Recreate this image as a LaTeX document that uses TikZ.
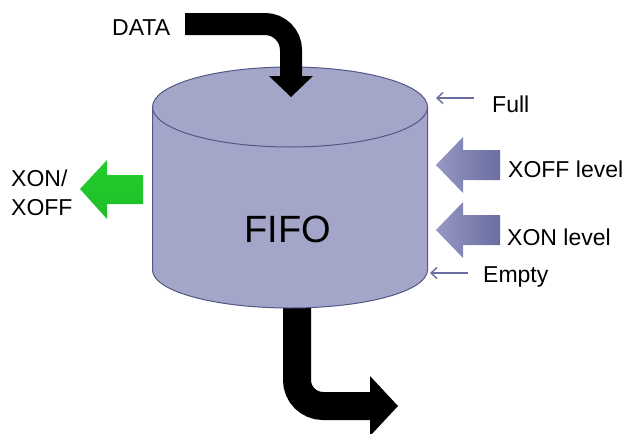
\documentclass[tikz,border=0pt]{standalone}
\usepackage{fontspec}
\setmainfont{Liberation Sans}
\usetikzlibrary{arrows.meta,positioning}
\definecolor{fifofill}{RGB}{163,166,201}
\definecolor{fifoedge}{RGB}{84,87,134}
\definecolor{leveldark}{RGB}{106,109,160}
\definecolor{levellight}{RGB}{150,152,196}
\definecolor{xongreen}{RGB}{34,206,44}
\tikzset{
  lbl/.style={font=\fontsize{23}{29}\selectfont, inner sep=0pt, anchor=base west},
  flowarrow/.style={draw=black, line width=#1, rounded corners=26pt},
  thinarrow/.style={draw=leveldark, line width=1.4pt, -{Straight Barb[length=6pt,width=11pt]}},
}

\begin{document}
\begin{tikzpicture}[x=1pt,y=-1pt]
\useasboundingbox (0,0) rectangle (625,434);
% data out (behind the cylinder)
\coordinate (dataout) at (297,260);
\coordinate (outbend) at (297,406);
\coordinate (outhead) at (371,406);
\draw[flowarrow=28pt] (dataout)--(outbend)--(outhead);
\fill (370,376)--(398,406)--(370,436)--cycle;
%
% cylinder
\filldraw[fill=fifofill,draw=fifoedge,line width=1pt](152.5,107)--(152.5,270)
  arc[start angle=180,end angle=360,x radius=137.5pt,y radius=38pt]--(427.5,107)--cycle;
\filldraw[fill=fifofill,draw=fifoedge,line width=1pt](290,107) ellipse [x radius=137.5pt,y radius=40pt];
\node[font=\fontsize{38}{44}\selectfont,inner sep=0pt,anchor=base] (fifo) at (288,242) {FIFO};
%
% data in
\node[lbl] (data) at (112,35) {DATA};
\coordinate (datain) at (185,24);
\coordinate (databend) at (291,24);
\coordinate (datahead) at (291,77);
\draw[flowarrow=22pt] (datain)--(databend)--(datahead);
\fill (269,76)--(313,76)--(291,97)--cycle;
%
% level arrows
\foreach \y in {165,230}
  \shade[left color=levellight,right color=leveldark](436,\y)--(463,{\y-28})--(463,{\y-15})
    --(500,{\y-15})--(500,{\y+15})--(463,{\y+15})--(463,{\y+28})--cycle;
\node[lbl] (xofflvl) at (508,177) {XOFF level};
\node[lbl] (xonlvl) at (507,245) {XON level};
%
% full / empty
\node[lbl] (full) at (492,112) {Full};
\node[lbl] (empty) at (483,282) {Empty};
\coordinate (fulltail) at (474,98);
\coordinate (fulltip) at (436,98);
\coordinate (emptytail) at (468,273);
\coordinate (emptytip) at (430,273);
\draw[thinarrow] (fulltail)--(fulltip);
\draw[thinarrow] (emptytail)--(emptytip);
%
% xon/xoff out
\shade[top color=xongreen,bottom color=xongreen!92!black](80,189)--(107,160)--(107,175)
  --(143,175)--(143,204)--(107,204)--(107,219)--cycle;
\node[lbl,align=left,anchor=west] (xonxoff) at (11,193) {XON/\\XOFF};
\end{tikzpicture}
\end{document}
